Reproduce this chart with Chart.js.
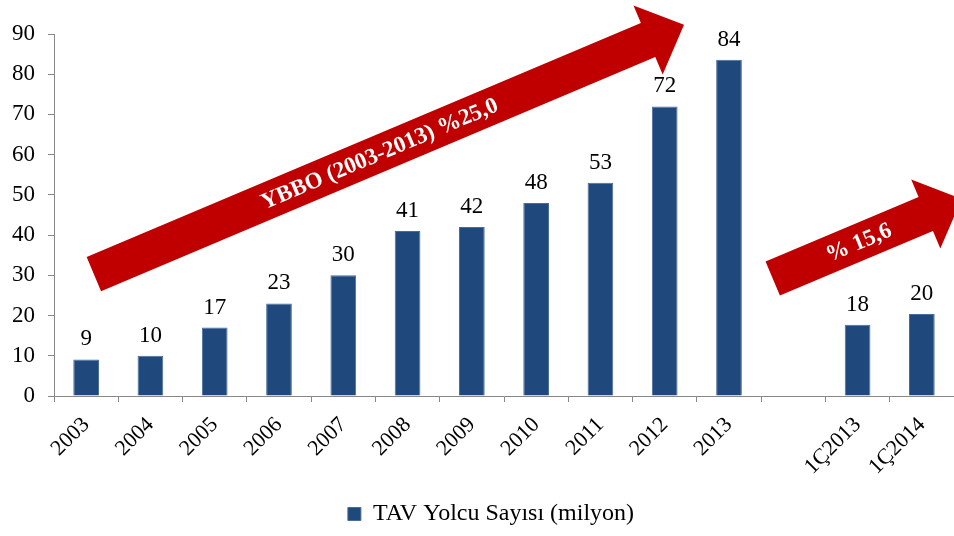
<!DOCTYPE html>
<html>
<head>
<meta charset="utf-8">
<script src="https://cdn.jsdelivr.net/npm/chart.js@4/dist/chart.umd.min.js"></script>
<style>
html,body{margin:0;padding:0;background:#fff;}
#wrap{width:954px;height:536px;position:relative;}
</style>
</head>
<body>
<div id="wrap"><canvas id="c" width="954" height="536"></canvas></div>
<script>
const categories = ['2003','2004','2005','2006','2007','2008','2009','2010','2011','2012','2013','','1Ç2013','1Ç2014'];
const passengers = [9.1, 10.0, 17.0, 23.0, 30.0, 41.0, 42.0, 48.0, 53.0, 72.0, 83.6, null, 17.7, 20.4];
const seriesName = 'TAV Yolcu Sayısı (milyon)';
const yTicks = [0,10,20,30,40,50,60,70,80,90];
const arrowLabels = ['YBBO (2003-2013) %25,0', '% 15,6'];
// arrows in data space: [tailIndex, tailValue, tipIndex, tipValue, textFraction]
const arrowBig = [0.12, 30.3, 9.30, 92.3, 0.484];
const arrowSmall = [10.68, 29.2, 13.62, 49.0, 0.455];

const SERIF = '"Liberation Serif","Times New Roman",serif';
const BAR = '#1F497D';
const RED = '#C00000';

const arrowPlugin = {
  id: 'arrows',
  afterDatasetsDraw(chart) {
    const ctx = chart.ctx, xs = chart.scales.x, ys = chart.scales.y;
    const list = [[arrowBig, arrowLabels[0]], [arrowSmall, arrowLabels[1]]];
    list.forEach(([a, label]) => {
      const tx = xs.getPixelForValue(a[0]), ty = ys.getPixelForValue(a[1]);
      const px = xs.getPixelForValue(a[2]), py = ys.getPixelForValue(a[3]);
      const dx = px - tx, dy = py - ty, len = Math.hypot(dx, dy);
      const ux = dx / len, uy = dy / len, nx = -uy, ny = ux;
      const sw = 37 / 2, hw = 75 / 2, hl = 39;
      const bx = px - ux * hl, by = py - uy * hl;
      ctx.save();
      ctx.fillStyle = RED;
      ctx.beginPath();
      ctx.moveTo(tx + nx * sw, ty + ny * sw);
      ctx.lineTo(bx + nx * sw, by + ny * sw);
      ctx.lineTo(bx + nx * hw, by + ny * hw);
      ctx.lineTo(px, py);
      ctx.lineTo(bx - nx * hw, by - ny * hw);
      ctx.lineTo(bx - nx * sw, by - ny * sw);
      ctx.lineTo(tx - nx * sw, ty - ny * sw);
      ctx.closePath();
      ctx.fill();
      const cx = tx + dx * a[4], cy = ty + dy * a[4];
      ctx.translate(cx, cy);
      ctx.rotate(Math.atan2(dy, dx));
      ctx.fillStyle = '#fff';
      ctx.font = 'bold 23px ' + SERIF;
      ctx.textAlign = 'center';
      ctx.textBaseline = 'middle';
      ctx.fillText(label, 0, 1);
      ctx.restore();
    });
  }
};

const labelPlugin = {
  id: 'valueLabels',
  afterDatasetsDraw(chart) {
    const ctx = chart.ctx;
    const meta = chart.getDatasetMeta(0);
    ctx.save();
    ctx.fillStyle = '#000';
    ctx.font = '23px ' + SERIF;
    ctx.textAlign = 'center';
    ctx.textBaseline = 'alphabetic';
    meta.data.forEach((bar, i) => {
      const v = passengers[i];
      if (v === null || v === undefined) return;
      ctx.fillText(String(Math.round(v)), bar.x, bar.y - 14);
    });
    ctx.restore();
  }
};

const legendShift = {
  id: 'legendShift',
  afterLayout(chart) {
    const lg = chart.legend;
    if (lg) { lg.left += 14; lg.right += 14; }
  }
};

new Chart(document.getElementById('c'), {
  type: 'bar',
  data: {
    labels: categories,
    datasets: [{
      label: seriesName,
      data: passengers,
      backgroundColor: BAR,
      borderColor: '#4A6C9A',
      borderWidth: 1,
      barPercentage: 0.4,
      categoryPercentage: 1.0
    }]
  },
  options: {
    responsive: false,
    animation: false,
    layout: { padding: { top: 34, left: 0, right: 0, bottom: 0 } },
    plugins: {
      legend: {
        position: 'bottom',
        labels: {
          font: { family: SERIF, size: 24 },
          color: '#000',
          boxWidth: 13,
          boxHeight: 13,
          padding: 8
        }
      },
      tooltip: { enabled: false }
    },
    scales: {
      x: {
        grid: { drawOnChartArea: false, drawTicks: true, tickLength: 6, color: '#888', offset: true },
        border: { color: '#888', width: 1 },
        ticks: {
          font: { family: SERIF, size: 22 },
          color: '#000',
          maxRotation: 45,
          minRotation: 45,
          autoSkip: false,
          padding: 10
        },
        afterFit(s) { s.height = 98; }
      },
      y: {
        min: 0,
        max: 90,
        afterBuildTicks(s) { s.ticks = yTicks.map(v => ({ value: v })); },
        grid: { drawOnChartArea: false, drawTicks: true, tickLength: 6, color: '#888' },
        border: { color: '#888', width: 1 },
        ticks: {
          font: { family: SERIF, size: 23 },
          color: '#000',
          padding: 13
        },
        afterFit(s) { s.width = 54; }
      }
    }
  },
  plugins: [arrowPlugin, labelPlugin, legendShift]
});
</script>
</body>
</html>
